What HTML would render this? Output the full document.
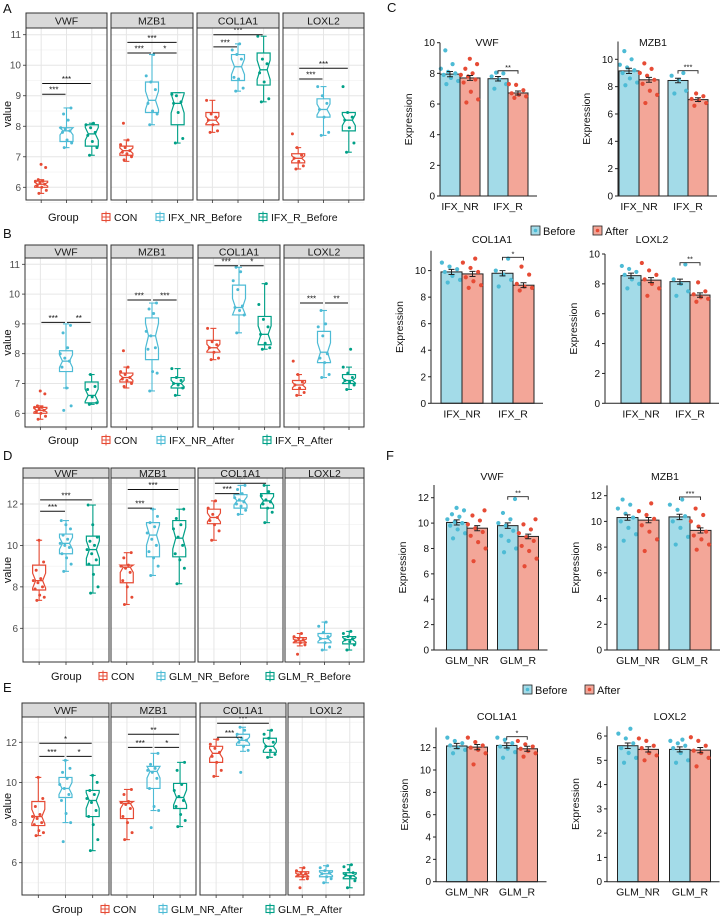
<!DOCTYPE html>
<html><head><meta charset="utf-8"><title>Gene expression figure</title>
<style>
html,body{margin:0;padding:0;background:#fff;}
svg{display:block;font-family:"Liberation Sans",Arial,sans-serif;}
</style></head>
<body>
<svg id="fig" width="722" height="917" viewBox="0 0 722 917"></svg>
<script>
const NS="http://www.w3.org/2000/svg";
const fig=document.getElementById('fig');
const genes=["VWF","MZB1","COL1A1","LOXL2"];
const colsBox=["#E64B35","#4DBBD5","#00A087"];
// ---------- Box panel data ----------
const groupsA=["CON","IFX_NR_Before","IFX_R_Before"];
const groupsB=["CON","IFX_NR_After","IFX_R_After"];
const groupsD=["CON","GLM_NR_Before","GLM_R_Before"];
const groupsE=["CON","GLM_NR_After","GLM_R_After"];
// stats: [lowWhisker,q1,median,q3,highWhisker]
const statsA=[[[5.8,6.0,6.1,6.2,6.25],[7.3,7.5,7.85,7.95,8.6],[7.05,7.35,7.75,8.05,8.1]],
 [[6.85,7.05,7.2,7.35,7.55],[8.05,8.45,8.85,9.45,10.35],[7.45,8.05,8.75,9.1,9.1]],
 [[7.8,8.05,8.2,8.45,8.85],[9.15,9.5,9.95,10.35,10.7],[8.8,9.35,9.85,10.4,10.95]],
 [[6.6,6.8,6.95,7.1,7.3],[7.7,8.3,8.55,8.9,9.3],[7.15,7.85,8.2,8.45,8.45]]];
const ptsA=[[[5.8,5.9,6.0,6.05,6.1,6.15,6.2,6.2,6.25,6.65,6.75],[7.3,7.45,7.55,7.8,7.85,7.9,7.95,8.2,8.4,8.6],[7.05,7.3,7.5,7.7,7.8,7.95,8.05,8.1]],
 [[6.9,7.0,7.1,7.15,7.2,7.3,7.4,7.55,8.1],[8.05,8.4,8.5,8.75,9.2,9.45,9.65,10.35],[7.45,7.6,8.45,8.75,8.8,9.0,9.05]],
 [[7.8,7.85,8.05,8.2,8.3,8.4,8.85],[9.15,9.25,9.55,9.6,10.2,10.35,10.5,10.7],[8.8,8.9,9.45,9.75,10.05,10.2,10.95]],
 [[6.6,6.7,6.85,6.95,7.05,7.3,7.75],[7.7,7.8,8.3,8.55,8.75,9.0,9.3],[7.15,7.45,7.95,8.2,8.3,8.45,9.3]]];
const sigA=[[[0,1,"***",9.05],[0,2,"***",9.4]],[[0,1,"***",10.4],[1,2,"*",10.4],[0,2,"***",10.75]],[[0,1,"***",10.6],[0,2,"***",11.0]],[[0,1,"***",9.55],[0,2,"***",9.9]]];

const statsB=[[[5.8,6.0,6.1,6.2,6.25],[6.85,7.4,7.75,8.1,9.0],[6.3,6.35,6.6,7.05,7.3]],
 [[6.85,7.05,7.2,7.35,7.55],[6.75,7.8,8.6,9.2,9.7],[6.6,6.85,7.0,7.2,7.5]],
 [[7.8,8.05,8.2,8.45,8.85],[8.7,9.3,9.55,10.3,10.9],[8.15,8.3,8.65,9.25,10.35]],
 [[6.6,6.8,6.95,7.1,7.3],[7.2,7.7,8.05,8.75,9.45],[6.8,7.0,7.1,7.3,7.55]]];
const ptsB=[[[5.8,5.9,6.0,6.05,6.1,6.15,6.2,6.2,6.25,6.65,6.75],[6.1,6.25,6.85,7.55,7.75,7.85,8.0,8.2,8.7,8.95],[6.3,6.35,6.55,6.8,6.9,7.3]],
 [[6.9,7.0,7.1,7.15,7.2,7.3,7.4,7.55,8.1],[6.75,7.35,7.4,8.15,8.2,8.6,8.75,9.35,9.5,9.7],[6.6,6.85,6.95,7.0,7.1,7.2,7.5]],
 [[7.8,7.85,8.05,8.2,8.3,8.4,8.85],[8.7,9.3,9.45,9.55,9.6,10.15,10.45,10.75,10.9],[8.15,8.2,8.35,8.65,8.9,9.15,9.65,10.35]],
 [[6.6,6.7,6.85,6.95,7.05,7.3,7.75],[7.2,7.3,7.7,7.85,8.0,8.6,8.9,9.0,9.45],[6.8,6.95,7.05,7.1,7.2,7.35,7.55,8.15]]];
const sigB=[[[0,1,"***",9.05],[1,2,"**",9.05]],[[0,1,"***",9.8],[1,2,"***",9.8]],[[0,1,"***",10.95],[1,2,"*",10.95]],[[0,1,"***",9.7],[1,2,"**",9.7]]];

const statsD=[[[7.35,7.85,8.3,9.05,10.25],[8.75,9.6,10.1,10.55,11.2],[7.7,9.05,9.8,10.45,11.95]],
 [[7.15,8.2,8.95,9.05,9.65],[8.55,9.45,10.5,11.1,11.75],[8.15,9.45,10.35,11.2,11.75]],
 [[10.25,11.05,11.35,11.75,12.15],[11.5,11.8,12.15,12.45,12.9],[11.1,11.8,12.15,12.5,12.9]],
 [[5.15,5.3,5.4,5.55,5.75],[4.95,5.3,5.5,5.75,6.3],[4.95,5.25,5.45,5.6,5.85]]];
const ptsD=[[[7.35,7.5,7.6,7.9,8.0,8.2,8.3,8.4,8.8,9.2,10.25],[8.75,9.1,9.4,9.6,9.9,10.0,10.1,10.3,10.5,10.8,11.0,11.2],[7.7,8.0,8.6,9.1,9.3,9.6,9.8,10.0,10.2,10.4,11.0,11.95]],
 [[7.15,7.5,8.0,8.3,8.7,8.9,9.0,9.05,9.4,9.65],[8.55,9.0,9.4,9.7,10.0,10.3,10.6,10.9,11.1,11.4,11.75],[8.15,8.9,9.3,9.6,10.0,10.4,10.8,11.0,11.3,11.75]],
 [[10.25,10.7,11.0,11.2,11.35,11.5,11.8,12.15],[11.5,11.7,11.9,12.0,12.1,12.2,12.3,12.5,12.7,12.9],[11.1,11.6,11.8,12.0,12.1,12.2,12.4,12.6,12.9]],
 [[4.75,5.2,5.3,5.4,5.45,5.5,5.6,5.75],[4.95,5.1,5.3,5.5,5.6,5.8,6.1,6.3],[4.95,5.2,5.35,5.45,5.5,5.6,5.75,5.85]]];
const sigD=[[[0,1,"***",11.65],[0,2,"***",12.2]],[[0,1,"***",11.8],[0,2,"***",12.7]],[[0,1,"***",12.5],[0,2,"***",13.0]],[]];

const statsE=[[[7.35,7.85,8.3,9.05,10.25],[8.0,9.25,9.7,10.25,11.1],[6.6,8.3,9.1,9.6,10.35]],
 [[7.15,8.2,8.95,9.05,9.65],[8.6,9.7,10.55,10.8,11.45],[7.8,8.7,9.25,9.95,11.0]],
 [[10.3,11.0,11.45,11.8,12.15],[11.55,11.85,12.1,12.4,12.75],[11.25,11.5,11.8,12.2,12.6]],
 [[5.15,5.3,5.4,5.55,5.75],[5.0,5.3,5.45,5.6,5.85],[4.75,5.2,5.35,5.5,5.9]]];
const ptsE=[[[7.35,7.5,7.6,7.9,8.0,8.2,8.3,8.4,8.8,9.2,10.25],[7.05,8.0,8.45,9.1,9.4,9.7,9.9,10.2,10.5,10.7,11.1],[6.6,7.15,7.9,8.3,8.6,9.0,9.2,9.4,9.6,10.0,10.35]],
 [[7.15,7.5,8.0,8.3,8.7,8.9,9.0,9.05,9.4,9.65],[7.75,8.6,8.8,9.7,10.2,10.5,10.6,10.7,10.9,11.45],[7.8,8.1,8.4,8.8,9.1,9.3,9.6,9.9,10.6,11.0]],
 [[10.3,10.6,11.0,11.3,11.5,11.7,11.9,12.15],[10.5,11.6,11.8,12.0,12.1,12.2,12.4,12.6,12.75],[11.25,11.4,11.6,11.8,12.0,12.2,12.4,12.6]],
 [[4.75,5.2,5.3,5.4,5.45,5.5,5.6,5.75],[5.0,5.2,5.3,5.45,5.5,5.6,5.75,5.85],[4.75,5.1,5.3,5.4,5.5,5.65,5.8,5.9]]];
const sigE=[[[0,1,"***",11.3],[1,2,"*",11.3],[0,2,"*",11.95]],[[0,1,"***",11.75],[1,2,"*",11.75],[0,2,"**",12.4]],[[0,1,"***",12.25],[0,2,"***",12.95]],[]];

// ---------- Bar chart data ----------
const barCats=[["IFX_NR","IFX_R"],["GLM_NR","GLM_R"]];
const meansCV=[7.95,7.7,7.65,6.72], meansCM=[9.15,8.5,8.45,7.05], meansCC=[9.9,9.75,9.8,8.9], meansCL=[8.55,8.25,8.15,7.25];
const meansFV=[10.05,9.6,9.8,8.95], meansFM=[10.3,10.1,10.35,9.3], meansFC=[12.15,12.05,12.2,11.9], meansFL=[5.6,5.45,5.45,5.42];
const ptsCV=[[7.3,7.5,7.7,7.9,8.0,8.1,8.3,8.6,9.5],[6.1,6.3,6.8,7.4,7.6,7.8,7.9,8.0,8.3,8.6,8.95],[7.0,7.3,7.6,7.8,8.0,8.05],[6.4,6.5,6.6,6.7,6.9,7.25,7.3]];
const ptsCM=[[8.1,8.3,8.6,9.0,9.2,9.4,9.6,10.0,10.6],[6.8,7.4,7.7,8.2,8.5,8.8,9.0,9.3,9.7],[7.5,7.7,8.5,8.8,9.0],[6.6,6.8,7.0,7.1,7.3,7.5]];
const ptsCC=[[9.1,9.3,9.6,9.9,10.1,10.3,10.6],[8.7,8.9,9.2,9.5,9.9,10.2,10.6,10.9],[8.8,9.3,9.7,10.0,10.9],[8.5,8.7,8.8,9.0,9.7,10.3]];
const ptsCL=[[7.7,8.0,8.3,8.6,8.8,9.0,9.2],[7.2,7.7,8.0,8.3,8.6,8.9,9.4],[7.2,7.5,8.0,8.3,9.3],[6.8,7.0,7.1,7.3,7.5,8.1]];
const ptsFV=[[8.8,9.2,9.5,9.8,10.0,10.1,10.3,10.5,10.7,11.0,11.2],[7.0,8.0,8.5,9.0,9.3,9.6,9.9,10.2,10.6,11.0],[7.7,8.0,8.6,9.0,9.4,9.8,10.0,10.3,10.8,11.9],[6.6,7.2,7.8,8.2,8.6,8.9,9.2,9.5,9.9,10.3]];
const ptsFM=[[8.5,9.0,9.5,10.0,10.3,10.6,11.0,11.3,11.7],[7.7,8.6,9.2,9.7,10.2,10.5,10.8,11.4],[8.2,8.8,9.5,10.0,10.4,10.9,11.3,11.7],[7.8,8.2,8.6,8.9,9.2,9.6,10.0,10.5,11.0]];
const ptsFC=[[11.5,11.8,12.0,12.2,12.4,12.6,12.9],[10.5,11.5,11.8,12.0,12.2,12.5,12.9],[11.1,11.6,11.9,12.1,12.4,12.7,12.9],[11.2,11.5,11.7,11.9,12.1,12.3,12.6]];
const ptsFL=[[4.9,5.1,5.3,5.5,5.7,5.9,6.1,6.3],[5.0,5.2,5.3,5.5,5.6,5.8,5.9],[4.9,5.0,5.3,5.5,5.6,5.7,5.8,5.85],[4.75,5.1,5.3,5.4,5.6,5.8,5.95]];
const sigBars=[["**",8.17],["***",9.17],["*",11.0],["**",9.42],["**",12.08],["***",11.9],["*",12.98],["",0]];

function mk(tag,attrs,parent){const e=document.createElementNS(NS,tag);for(const k in attrs)e.setAttribute(k,attrs[k]);(parent||fig).appendChild(e);return e;}
function txt(s,attrs,parent){const e=mk('text',attrs,parent);e.textContent=s;return e;}
function jit(i,n){return ((i*0.6180339+0.31)%1)-0.5;}

function panelLetter(s,x,y){
  const t=txt(s,{x:x,y:y,'font-size':13,fill:'#111'});
  
  
}

function boxPanel(id,cfg,stats,pts,sig,groups){
  const g=mk('g',{});
  
  
  const [v0,p0,v1,p1]=cfg.yv;
  const Y=v=>p0+(v-v0)*(p1-p0)/(v1-v0);
  const top=cfg.stripBot;
  cfg.facets.forEach((f,gi)=>{
    const [x0,x1]=f, w=x1-x0;
    const X=i=>x0+w*(0.6+i)/3.2;
    const fg=mk('g',{},g);
    
    
    const bg=mk('rect',{x:x0,y:top,width:w,height:cfg.bottom-top,fill:'#fff'},fg);
    
    
    cfg.minor.forEach(v=>{const l=mk('line',{x1:x0,x2:x1,y1:Y(v),y2:Y(v),stroke:'#f0f0f0','stroke-width':0.6},fg);
      
      });
    cfg.major.forEach(v=>{const l=mk('line',{x1:x0,x2:x1,y1:Y(v),y2:Y(v),stroke:'#e6e6e6','stroke-width':1},fg);
      
      });
    [0,1,2].forEach(i=>{const l=mk('line',{x1:X(i),x2:X(i),y1:top,y2:cfg.bottom,stroke:'#e6e6e6','stroke-width':1},fg);
      
      
      const tk=mk('line',{x1:X(i),x2:X(i),y1:cfg.bottom,y2:cfg.bottom+3,stroke:'#333','stroke-width':0.8},fg);
      
      });
    stats[gi].forEach((s,ci)=>{
      const c=colsBox[ci], cx=X(ci), hw=6.5, nw=3.5;
      const bx=mk('g',{},fg);
      
      
      const iqr=s[3]-s[1]; let nh=Math.max(iqr*0.3,0.05);
      const nlo=Math.max(s[2]-nh,s[1]), nhi=Math.min(s[2]+nh,s[3]);
      const w1=mk('line',{x1:cx,x2:cx,y1:Y(s[0]),y2:Y(s[1]),stroke:c,'stroke-width':1.1},bx);
      
      
      const w2=mk('line',{x1:cx,x2:cx,y1:Y(s[3]),y2:Y(s[4]),stroke:c,'stroke-width':1.1},bx);
      
      
      [s[0],s[4]].forEach(v=>{const e=mk('line',{x1:cx-3,x2:cx+3,y1:Y(v),y2:Y(v),stroke:c,'stroke-width':1.1},bx);
        
        });
      const pth=`M${cx-hw},${Y(s[1])} L${cx-hw},${Y(nlo)} L${cx-nw},${Y(s[2])} L${cx-hw},${Y(nhi)} L${cx-hw},${Y(s[3])} L${cx+hw},${Y(s[3])} L${cx+hw},${Y(nhi)} L${cx+nw},${Y(s[2])} L${cx+hw},${Y(nlo)} L${cx+hw},${Y(s[1])} Z`;
      const b=mk('path',{d:pth,fill:'none',stroke:c,'stroke-width':1.2},bx);
      
      
      const m=mk('line',{x1:cx-nw,x2:cx+nw,y1:Y(s[2]),y2:Y(s[2]),stroke:c,'stroke-width':1.3},bx);
      
      
      const pp=pts[gi][ci];
      pp.forEach((v,i)=>{const p=mk('circle',{cx:cx+jit(i,pp.length)*12,cy:Y(v),r:1.5,fill:c},bx);
        
        });
    });
    sig[gi].forEach(sg=>{
      const xa=X(sg[0])+1, xb=X(sg[1])-1, yy=Y(sg[3]);
      const l=mk('line',{x1:xa,x2:xb,y1:yy,y2:yy,stroke:'#111','stroke-width':1},fg);
      
      
      const t=txt(sg[2],{x:(xa+xb)/2,y:yy-1.5,'font-size':8,'text-anchor':'middle',fill:'#111'},fg);
      
      
    });
    const bd=mk('rect',{x:x0,y:top,width:w,height:cfg.bottom-top,fill:'none',stroke:'#333','stroke-width':1},fg);
    
    
    const st=mk('rect',{x:x0,y:cfg.stripTop,width:w,height:cfg.stripBot-cfg.stripTop,fill:'#d9d9d9',stroke:'#333','stroke-width':1},fg);
    
    
    const sl=txt(genes[gi],{x:x0+w/2,y:(cfg.stripTop+cfg.stripBot)/2+3.8,'font-size':10.5,'text-anchor':'middle',fill:'#1a1a1a'},fg);
    
    
  });
  const ax0=cfg.facets[0][0];
  cfg.major.forEach(v=>{
    const tk=mk('line',{x1:ax0-3,x2:ax0,y1:Y(v),y2:Y(v),stroke:'#333','stroke-width':0.8},g);
    
    
    const t=txt(String(v),{x:ax0-5,y:Y(v)+3.5,'font-size':10,'text-anchor':'end',fill:'#4d4d4d'},g);
    
    
  });
  const yt=txt('value',{x:0,y:0,'font-size':11,'text-anchor':'middle',fill:'#111',transform:`translate(11,${(top+cfg.bottom)/2}) rotate(-90)`},g);
  
  
  const lg=mk('g',{},g);
  
  
  const gt=txt('Group',{x:cfg.groupX,y:cfg.legendY+4,'font-size':11,fill:'#111'},lg);
  
  
  groups.forEach((gn,i)=>{
    const kx=cfg.keyX[i], ky=cfg.legendY, c=colsBox[i];
    const ke=mk('g',{},lg);
    
    
    mk('rect',{x:kx,y:ky-3.5,width:8,height:7,fill:'none',stroke:c,'stroke-width':1.1},ke);
    mk('line',{x1:kx,x2:kx+8,y1:ky,y2:ky,stroke:c,'stroke-width':1},ke);
    mk('line',{x1:kx+4,x2:kx+4,y1:ky-5.5,y2:ky+5.5,stroke:c,'stroke-width':1},ke);
    const t=txt(gn,{x:kx+12,y:ky+4,'font-size':10.5,fill:'#111'},ke);
    
    
  });
}

function barChart(id,cfg,cats,means,pts,sg){
  const g=mk('g',{});
  
  
  const Y=v=>cfg.y0-v*cfg.k;
  const bw=cfg.bw;
  const fills=['#a3dbe8','#f3a698'], pc=['#4DBBD5','#E64B35'];
  means.forEach((m,i)=>{
    const ci=Math.floor(i/2), side=i%2;
    const x=cfg.centers[ci]+(side?0:-bw);
    const r=mk('rect',{x:x,y:Y(m),width:bw,height:cfg.y0-Y(m),fill:fills[side],stroke:'#222','stroke-width':1},g);
    
    
    const pp=pts[i];
    pp.forEach((v,j)=>{const p=mk('circle',{cx:x+bw/2+jit(j,pp.length)*bw*0.95,cy:Y(v),r:2.1,fill:pc[side]},g);
      
      });
    const e=0.18*Math.max(...pp)/10, cx=x+bw/2;
    const eb=mk('path',{d:`M${cx},${Y(m-e)}V${Y(m+e)}M${cx-3},${Y(m-e)}H${cx+3}M${cx-3},${Y(m+e)}H${cx+3}`,stroke:'#222','stroke-width':1,fill:'none'},g);
    
    
  });
  const ya=mk('line',{x1:cfg.ax,x2:cfg.ax,y1:cfg.y0,y2:Y(cfg.top),stroke:'#222','stroke-width':1},g);
  
  
  const xa=mk('line',{x1:cfg.ax,x2:cfg.centers[1]+bw+9,y1:cfg.y0,y2:cfg.y0,stroke:'#222','stroke-width':1},g);
  
  
  cfg.ticks.forEach(v=>{
    const tk=mk('line',{x1:cfg.ax-3,x2:cfg.ax,y1:Y(v),y2:Y(v),stroke:'#222','stroke-width':1},g);
    
    
    const t=txt(String(v),{x:cfg.ax-5,y:Y(v)+3.5,'font-size':10,'text-anchor':'end',fill:'#111'},g);
    
    
  });
  cats.forEach((c,i)=>{
    const t=txt(c,{x:cfg.centers[i],y:cfg.y0+14,'font-size':10.5,'text-anchor':'middle',fill:'#111'},g);
    
    
  });
  const tt=txt(cfg.title,{x:cfg.tx,y:cfg.ty,'font-size':10.5,'text-anchor':'middle',fill:'#111'},g);
  
  
  const yt=txt('Expression',{x:0,y:0,'font-size':10.5,'text-anchor':'middle',fill:'#111',transform:`translate(${cfg.ax-28},${(cfg.y0+Y(cfg.top))/2}) rotate(-90)`},g);
  
  
  if(sg[0]){
    const xa2=cfg.centers[1]-bw/2, xb=cfg.centers[1]+bw/2, yy=Y(sg[1]);
    const br=mk('path',{d:`M${xa2},${yy+3}V${yy}H${xb}V${yy+3}`,stroke:'#222','stroke-width':0.9,fill:'none'},g);
    
    
    const st=txt(sg[0],{x:(xa2+xb)/2,y:yy-1,'font-size':7.5,'text-anchor':'middle',fill:'#111'},g);
    
    
  }
}

function barLegend(x1,x2,y){
  const g=mk('g',{});
  
  
  [['Before','#a3dbe8','#4DBBD5',x1],['After','#f3a698','#E64B35',x2]].forEach(d=>{
    const e=mk('g',{},g);
    
    
    mk('rect',{x:d[3],y:y-5,width:9,height:9,fill:d[1],stroke:'#222','stroke-width':0.8},e);
    mk('circle',{cx:d[3]+4.5,cy:y-0.5,r:1.8,fill:d[2]},e);
    const t=txt(d[0],{x:d[3]+12,y:y+4,'font-size':11,fill:'#111'},e);
    
    
  });
}

panelLetter('A',3,13);panelLetter('B',3,238);panelLetter('C',387,12);
panelLetter('D',3,460);panelLetter('E',3,692);panelLetter('F',386,460);

boxPanel('a',{facets:[[26,107],[111,193],[197,279],[283,364]],stripTop:13,stripBot:28,bottom:200,yv:[6,187.3,11,34.7],
  major:[6,7,8,9,10,11],minor:[5.5,6.5,7.5,8.5,9.5,10.5],legendY:217,groupX:48,keyX:[102,156,259]},statsA,ptsA,sigA,groupsA);
boxPanel('b',{facets:[[25,107],[111,193],[198,280],[284,364]],stripTop:245,stripBot:258,bottom:427,yv:[6,413.3,11,264.3],
  major:[6,7,8,9,10,11],minor:[5.5,6.5,7.5,8.5,9.5,10.5],legendY:440,groupX:48,keyX:[102,157,263]},statsB,ptsB,sigB,groupsB);
boxPanel('d',{facets:[[23,109],[111,195],[198,283],[285,364]],stripTop:468,stripBot:478,bottom:662,yv:[6,628.3,12,504],
  major:[6,8,10,12],minor:[5,7,9,11,13],legendY:676,groupX:51,keyX:[99,157,266]},statsD,ptsD,sigD,groupsD);
boxPanel('e',{facets:[[22,109],[111,196],[200,286],[288,364]],stripTop:703,stripBot:717,bottom:895,yv:[6,862.7,12,742.3],
  major:[6,8,10,12],minor:[5,7,9,11,13],legendY:909,groupX:52,keyX:[101,159,266]},statsE,ptsE,sigE,groupsE);

barChart('c-vwf',{ax:440,y0:196,k:15.33,top:10,ticks:[0,2,4,6,8,10],centers:[460,508],bw:20,title:'VWF',tx:487,ty:46},barCats[0],meansCV,ptsCV,sigBars[0]);
barChart('c-mzb1',{ax:618,y0:196,k:13.67,top:11.3,ticks:[0,2,4,6,8,10],centers:[639,688],bw:20,title:'MZB1',tx:653,ty:46},barCats[0],meansCM,ptsCM,sigBars[1]);
barChart('c-col1a1',{ax:431,y0:403.3,k:13.27,top:11.5,ticks:[0,2,4,6,8,10],centers:[462,513],bw:21,title:'COL1A1',tx:492,ty:243},barCats[0],meansCC,ptsCC,sigBars[2]);
barChart('c-loxl2',{ax:605,y0:403.3,k:14.93,top:10,ticks:[0,2,4,6,8,10],centers:[641,690],bw:20,title:'LOXL2',tx:652,ty:243},barCats[0],meansCL,ptsCL,sigBars[3]);
barChart('f-vwf',{ax:434,y0:650,k:12.69,top:13,ticks:[0,2,4,6,8,10,12],centers:[467,518],bw:20.5,title:'VWF',tx:492,ty:480},barCats[1],meansFV,ptsFV,sigBars[4]);
barChart('f-mzb1',{ax:607,y0:650,k:12.86,top:12.8,ticks:[0,2,4,6,8,10,12],centers:[638,690],bw:21,title:'MZB1',tx:665,ty:480},barCats[1],meansFM,ptsFM,sigBars[5]);
barChart('f-col1a1',{ax:436,y0:881.7,k:11.17,top:13.8,ticks:[0,2,4,6,8,10,12],centers:[467,517],bw:20.5,title:'COL1A1',tx:497,ty:720},barCats[1],meansFC,ptsFC,sigBars[6]);
barChart('f-loxl2',{ax:607,y0:881.7,k:24.28,top:6.4,ticks:[0,1,2,3,4,5,6],centers:[638,690],bw:20.5,title:'LOXL2',tx:670,ty:720},barCats[1],meansFL,ptsFL,sigBars[7]);

barLegend(531,593,231);
barLegend(523,585,690);
</script>
</body></html>
